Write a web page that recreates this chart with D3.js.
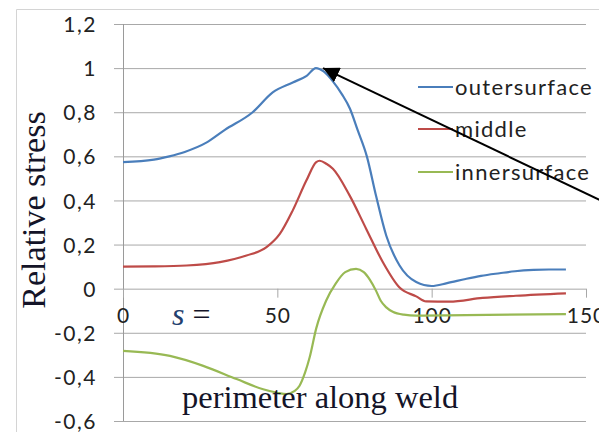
<!DOCTYPE html>
<html><head><meta charset="utf-8">
<script src="https://cdn.jsdelivr.net/npm/d3@7"></script>
<style>html,body{margin:0;padding:0;background:#fff;}svg{display:block;}</style>
</head><body>
<svg id="c" width="599" height="432"></svg>
<script>
// ---- data ----
const seriesNames = ["outersurface", "middle", "innersurface"];
const seriesColors = ["#4a7ebb", "#be4b48", "#98b954"];
const outerX = [0, 10, 15, 20, 27, 33, 42, 48.5, 55, 59.5, 62.5, 65, 68, 71, 73.5, 76, 79, 82, 85.3, 89.6, 95, 100, 105, 111, 116, 122, 127, 133, 138, 143.5];
const outerY = [0.574, 0.585, 0.60, 0.62, 0.662, 0.72, 0.80, 0.89, 0.935, 0.965, 1.0, 0.985, 0.94, 0.88, 0.817, 0.72, 0.60, 0.42, 0.24, 0.105, 0.03, 0.012, 0.025, 0.044, 0.058, 0.07, 0.079, 0.085, 0.087, 0.087];
const middleX = [0, 10, 20.6, 31.4, 40, 46.5, 50.8, 55, 59.4, 62.6, 63.7, 66, 68, 73.4, 78.8, 84.2, 89.6, 95, 98.2, 105.7, 116.5, 127.3, 143.5];
const middleY = [0.10, 0.101, 0.105, 0.12, 0.15, 0.188, 0.248, 0.355, 0.49, 0.574, 0.58, 0.565, 0.544, 0.423, 0.271, 0.12, 0.005, -0.035, -0.058, -0.059, -0.042, -0.032, -0.021];
const innerX = [0, 15.2, 26, 36.8, 45.4, 50, 53, 55.5, 57.2, 59, 60.5, 62.6, 65.8, 69, 72, 75.5, 78, 80, 82, 83.5, 85.3, 87.4, 91, 95, 111, 143.5];
const innerY = [-0.282, -0.305, -0.35, -0.41, -0.456, -0.472, -0.478, -0.465, -0.44, -0.38, -0.31, -0.18, -0.055, 0.025, 0.075, 0.09, 0.075, 0.04, -0.01, -0.055, -0.085, -0.105, -0.118, -0.122, -0.12, -0.115];
const yTicks = [1.2, 1, 0.8, 0.6, 0.4, 0.2, 0, -0.2, -0.4, -0.6];
const yTickLabels = ["1,2", "1", "0,8", "0,6", "0,4", "0,2", "0", "-0,2", "-0,4", "-0,6"];
const xTicks = [0, 50, 100, 150];
const xTickLabels = ["0", "50", "100", "150"];
const yTitle = "Relative stress";
const xTitle = "perimeter along weld";
const sLabel = "s";
const arrowFrom = [160, 0.365]; // data coords (x, stress) of arrow tail (beyond right edge)
const arrowTo = [64.8, 1.0];    // data coords of arrow tip

// ---- chart ----
const svg = d3.select("#c");
const x = d3.scaleLinear().domain([0, 150]).range([123, 586]);
const y = d3.scaleLinear().domain([-0.6, 1.2]).range([421, 24]);
const sans = "Lato, 'Open Sans', sans-serif";
const serif = "'Liberation Serif', 'Times New Roman', serif";

// frame
svg.append("path").attr("d", "M16.5,432 L16.5,9.5 L599,9.5")
  .attr("fill", "none").attr("stroke", "#d4d4d4").attr("stroke-width", 1);

// gridlines + y ticks
const gy = svg.append("g")
  .attr("transform", "translate(123,0)")
  .call(d3.axisLeft(y).tickValues(yTicks).tickSize(9).tickSizeOuter(0)
    .tickFormat((d, i) => yTickLabels[i]));
gy.select(".domain").remove();
gy.selectAll(".tick line").attr("stroke", "#a8a8a8");
gy.selectAll(".tick text").attr("x", -26).attr("dy", "0.36em")
  .attr("font-family", sans).attr("font-size", 21).attr("letter-spacing", "1.5px").attr("fill", "#222");
gy.selectAll(".tick").append("line")
  .attr("x1", 0).attr("x2", 586 - 123).attr("stroke", "#a8a8a8").attr("stroke-width", 1);

// y axis line
svg.append("line").attr("x1", 123.5).attr("x2", 123.5).attr("y1", y(1.2)).attr("y2", y(-0.6))
  .attr("stroke", "#9a9a9a");

// x axis at 0
const gx = svg.append("g")
  .attr("transform", `translate(0,${y(0)})`)
  .call(d3.axisBottom(x).tickValues(xTicks).tickSize(9).tickSizeOuter(0)
    .tickFormat((d, i) => xTickLabels[i]));
gx.select(".domain").remove();
gx.selectAll(".tick line").attr("stroke", "#a8a8a8");
gx.selectAll(".tick text").attr("y", 27).attr("dy", "0.36em")
  .attr("font-family", sans).attr("font-size", 21).attr("letter-spacing", "1px").attr("fill", "#222");

// lines
const line = d3.line().x(d => x(d[0])).y(d => y(d[1])).curve(d3.curveMonotoneX);
const sets = [[outerX, outerY], [middleX, middleY], [innerX, innerY]];
sets.forEach((s, i) => {
  const pts = s[0].map((v, j) => [v, s[1][j]]);
  svg.append("path").datum(pts).attr("d", line)
    .attr("fill", "none").attr("stroke", seriesColors[i]).attr("stroke-width", 2.2);
});

// legend
const legY = [87, 129, 172];
seriesNames.forEach((n, i) => {
  svg.append("line").attr("x1", 418).attr("x2", 453).attr("y1", legY[i]).attr("y2", legY[i])
    .attr("stroke", seriesColors[i]).attr("stroke-width", 2.2);
  svg.append("text").attr("x", 455).attr("y", legY[i]).attr("dy", "0.36em")
    .attr("font-family", sans).attr("font-size", 22).attr("letter-spacing", "1.3px").attr("fill", "#222")
    .text(n);
});

// arrow
svg.append("defs").append("marker").attr("id", "ah")
  .attr("viewBox", "0 0 10 10").attr("refX", 10).attr("refY", 5)
  .attr("markerWidth", 8).attr("markerHeight", 8).attr("markerUnits", "strokeWidth")
  .attr("orient", "auto")
  .append("path").attr("d", "M0,0 L10,5 L0,10 z").attr("fill", "#000");
svg.append("line")
  .attr("x1", x(arrowFrom[0])).attr("y1", y(arrowFrom[1]))
  .attr("x2", x(arrowTo[0])).attr("y2", y(arrowTo[1]))
  .attr("stroke", "#000").attr("stroke-width", 2).attr("marker-end", "url(#ah)");

// titles
svg.append("text").attr("transform", "translate(45,210) rotate(-90)")
  .attr("text-anchor", "middle")
  .attr("font-family", serif).attr("font-size", 34)
  .attr("fill", "#141428").text(yTitle);
svg.append("text").attr("x", 182).attr("y", 408)
  .attr("font-family", serif).attr("font-size", 32.5)
  .attr("fill", "#141428").text(xTitle);
const st = svg.append("text").attr("x", 172).attr("y", 325)
  .attr("font-family", serif).attr("font-size", 32);
st.append("tspan").attr("font-style", "italic").attr("fill", "#23406e").text(sLabel);
st.append("tspan").attr("dx", 8).attr("fill", "#141428").text("=");
</script>
</body></html>
